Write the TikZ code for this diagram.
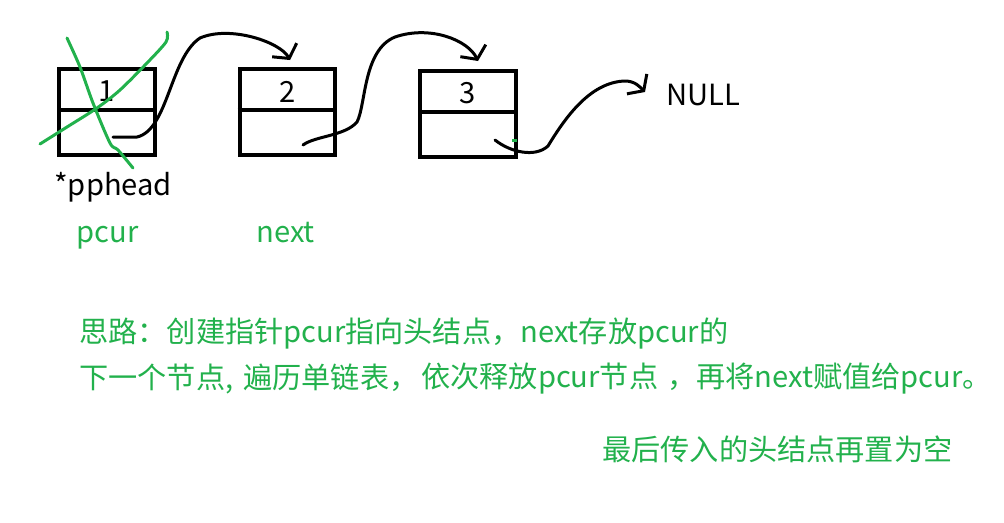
\documentclass[tikz,border=0pt]{standalone}
\usepackage{fontspec}
\setmainfont{Noto Sans CJK SC}
\usetikzlibrary{arrows.meta}
\definecolor{pgreen}{HTML}{22B14C}

\begin{document}
\begin{tikzpicture}[x=0.02cm, y=-0.02cm,
    txt/.style={inner sep=0pt, font=\fontsize{16.6pt}{20pt}\selectfont},
    listnode/.style={draw, line width=0.08cm, minimum width=1.92cm,
                     minimum height=1.72cm, inner sep=0pt},
    link/.style={-{Straight Barb[length=5.5pt, width=16pt]},
                 line width=0.06cm, line cap=round, line join=round},
    cross/.style={pgreen, line width=0.06cm, line cap=round}]
  \useasboundingbox (0,0) rectangle (1004,522);
  \foreach \i/\x/\y/\b in {1/107/112/101, 2/287.5/112/102, 3/468/114/103}{
    \node[listnode] (n\i) at (\x,\y) {};
    \draw[line width=0.08cm] ([yshift=0.04cm]n\i.west) -- ([yshift=0.04cm]n\i.east);
    \node[txt, anchor=base] (v\i) at (\x,\b) {\i};
  }
  \coordinate (p1) at (113,137);
  \coordinate (p2) at (303,145);
  \coordinate (p3) at (495,140);
  \node[txt, anchor=base west] (null) at (666,105) {NULL};
  \draw[link] (p1) -- (137,137) .. controls (168,130) and (170,58) .. (200,38)
    .. controls (230,25) and (280,42) .. ([xshift=0.05cm, yshift=0.14cm]n2.north);
  \draw[link] (p2) .. controls (315,136) and (345,136) .. (357,122)
    .. controls (366,105) and (363,50) .. (395,37)
    .. controls (430,25) and (468,40) .. ([xshift=0.2cm, yshift=0.16cm]n3.north);
  \draw[link] (p3) .. controls (510,152) and (535,158) .. (548,146)
    .. controls (565,118) and (590,82) .. (625,81)
    .. controls (635,81) and (640,87) .. ([xshift=-0.42cm, yshift=0.05cm]null.west);
  \draw[cross] plot[smooth] coordinates {(67,38) (80,67) (93,103) (110,143) (118,150) (133,168)};
  \draw[cross] plot[smooth] coordinates {(167,32) (166,42) (147,63) (120,90) (97,108) (67,127) (40,144)};
  \draw[pgreen, line width=0.06cm] (512,140) -- (517,140);
  \node[txt, anchor=base west] (pphead) at (54,195) {*pphead};
  \node[txt, pgreen, anchor=base west] (pcur) at (76,242) {pcur};
  \node[txt, pgreen, anchor=base west] (next) at (256,242) {next};
  \node[txt, pgreen, anchor=base west] (idea) at (79,342) {思路：创建指针pcur指向头结点，next存放pcur的};
  \node[txt, pgreen, anchor=base west] (walka) at (79,388) {下一个节点,};
  \node[txt, pgreen, anchor=base west] (walkb) at (243,388) {遍历单链表，};
  \node[txt, pgreen, anchor=base west] (walkc) at (421,387) {依次释放pcur节点\hspace{0.3em}，再将next赋值给pcur。};
  \node[txt, pgreen, anchor=base west] (last) at (602,460) {最后传入的头结点再置为空};
\end{tikzpicture}
\end{document}
